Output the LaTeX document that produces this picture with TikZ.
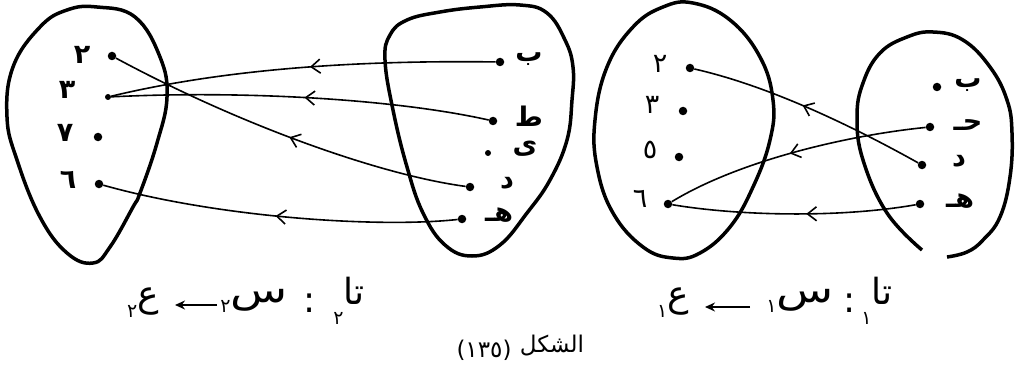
\documentclass[tikz,border=0pt]{standalone}
\usepackage{fontspec}
\usetikzlibrary{arrows.meta,decorations.markings}
\newfontfamily\arabicfont[Script=Arabic]{DejaVu Sans}
\newcommand\lowdig[1]{\raisebox{-0.3em}{\fontsize{19}{19}\selectfont #1}}
\tikzset{
  blob/.style={line width=3.5pt, line join=round},
  conn/.style={line width=1.6pt},
  midarr/.style={postaction={decorate}, decoration={markings,
      mark=at position #1 with {\arrow{Straight Barb[length=9pt,width=14pt,line width=1.6pt]}}}},
  pt/.style={circle, fill=black, inner sep=0pt, minimum size=8.5pt},
  spt/.style={circle, fill=black, inner sep=0pt, minimum size=6pt},
  labb/.style={font=\arabicfont\bfseries\fontsize{27}{27}\selectfont, inner sep=0pt},
  lab/.style={font=\arabicfont\fontsize{27}{27}\selectfont, inner sep=0pt},
  captxt/.style={font=\arabicfont\fontsize{36}{36}\selectfont, inner sep=0pt},
  ctitle/.style={font=\arabicfont\fontsize{23}{23}\selectfont, inner sep=0pt},
  caparrow/.style={line width=1.5pt, -{Stealth[length=10pt,width=9pt]}}
}
\begin{document}
\begin{tikzpicture}[x=1pt,y=-1pt]
\useasboundingbox (0,0) rectangle (1022,377);

% ---------- left diagram (ta2) ----------
\draw[blob] plot[smooth cycle, tension=0.7] coordinates {
  (97,7) (135,17) (160,57) (167,97) (157,143) (140,193) (133,207) (110,247)
  (93,263) (67,253) (40,217) (17,160) (7,117) (13,67) (40,27) (67,10)};
\draw[blob] plot[smooth cycle, tension=0.7] coordinates {
  (520,5) (547,13) (565,40) (573,67) (572,100) (567,140) (550,180) (527,213)
  (500,245) (472,256) (445,245) (423,213) (407,167) (393,110) (385,60)
  (390,35) (407,20) (440,12) (480,7)};

\node[pt]  (a2) at (112,56) {};
\node[spt] (a3) at (108,97) {};
\node[pt]  (a7) at (98,137) {};
\node[pt]  (a6) at (99,184) {};
\node[labb] (la2) at (82,55) {٢};
\node[labb] (la3) at (67,90) {٣};
\node[labb] (la7) at (65,133) {٧};
\node[labb] (la6) at (68,180) {٦};

\node[pt]  (bb) at (500,62) {};
\node[pt]  (bt) at (493,121) {};
\node[spt] (by) at (488,153) {};
\node[pt]  (bd) at (470,187) {};
\node[pt]  (bh) at (462,219) {};
\node[labb] (lbb) at (529,59) {ب};
\node[labb] (lbt) at (529,116) {ط};
\node[labb] (lby) at (525,149) {ى};
\node[labb] (lbd) at (507,183) {د};
\node[labb] (lbh) at (499,215) {هـ};

\draw[conn, midarr=0.48] (bb) .. controls (350,60) and (220,70) .. (a3);
\draw[conn, midarr=0.49] (bt) .. controls (400,100) and (250,90) .. (a3);
\draw[conn, midarr=0.49] (bd) .. controls (380,175) and (240,125) .. (a2);
\draw[conn, midarr=0.51] (bh) .. controls (380,228) and (220,218) .. (a6);

% ---------- right diagram (ta1) ----------
\draw[blob] plot[smooth cycle, tension=0.7] coordinates {
  (693,3) (730,20) (760,57) (773,100) (770,140) (753,187) (730,227) (700,253)
  (673,258) (643,247) (613,213) (597,167) (595,120) (607,67) (633,27) (663,7)};
\draw[blob] plot[smooth, tension=0.7] coordinates {
  (922,250) (887,213) (863,160) (857,117) (863,83) (880,53) (907,37) (933,32)
  (963,40) (990,67) (1007,100) (1012,133) (1010,177) (1000,217) (983,240)
  (967,252) (947,257)};

\node[pt] (c2) at (690,68) {};
\node[pt] (c3) at (683,111) {};
\node[pt] (c5) at (679,157) {};
\node[pt] (c6) at (668,204) {};
\node[lab] (lc2) at (660,64) {٢};
\node[lab] (lc3) at (652,105) {٣};
\node[lab] (lc5) at (650,150) {٥};
\node[lab] (lc6) at (640,199) {٦};

\node[pt] (db) at (937,87) {};
\node[pt] (dj) at (930,127) {};
\node[pt] (dd) at (922,165) {};
\node[pt] (dh) at (920,204) {};
\node[labb] (ldb) at (968,85) {ب};
\node[labb] (ldj) at (968,125) {حـ};
\node[labb] (ldd) at (959,161) {د};
\node[labb] (ldh) at (960,201) {هـ};

\draw[conn, midarr=0.53] (dd) .. controls (845,122) and (765,85) .. (c2);
\draw[conn, midarr=0.52] (dj) .. controls (850,135) and (740,160) .. (c6);
\draw[conn, midarr=0.45] (dh) .. controls (840,218) and (740,216) .. (c6);

% ---------- captions ----------
\node[captxt] (lA) at (143,303) {\lowdig{٢}ع};
\node[captxt] (lB) at (254,301) {\lowdig{٢}\scalebox{1.3}[1]{س}};
\node[captxt] (lC) at (310,303) {:};
\node[captxt] (lD) at (349,301) {\lowdig{٢}\raisebox{0.25em}{تا}};
\coordinate (lr1) at (217,305);
\coordinate (lr2) at (175,305);
\draw[caparrow] (lr1) -- (lr2);

\node[captxt] (rA) at (673,303) {\lowdig{١}ع};
\node[captxt] (rB) at (800,301) {\lowdig{١}\scalebox{1.3}[1]{س}};
\node[captxt] (rC) at (850,303) {:};
\node[captxt] (rD) at (877,301) {\lowdig{١}\raisebox{0.25em}{تا}};
\coordinate (rr1) at (750,307);
\coordinate (rr2) at (705,307);
\draw[caparrow] (rr1) -- (rr2);

\node[ctitle] (fignum) at (484,350) {(١٣٥)};
\node[ctitle] (figword) at (552,346) {الشكل};
\end{tikzpicture}
\end{document}
